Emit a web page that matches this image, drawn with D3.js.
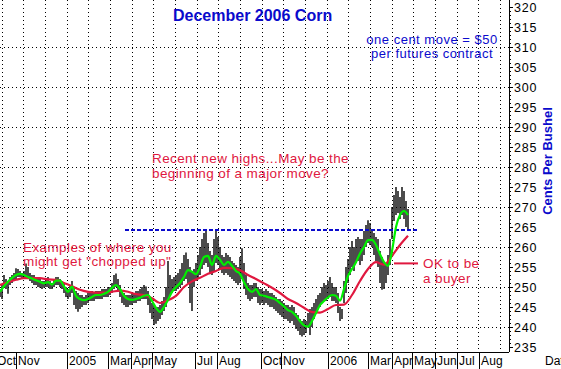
<!DOCTYPE html>
<html><head><meta charset="utf-8">
<script src="https://cdn.jsdelivr.net/npm/d3@7/dist/d3.min.js"></script>
<style>html,body{margin:0;padding:0;background:#fff;overflow:hidden}svg{display:block;font-family:Arial,"Liberation Sans",sans-serif}</style>
</head><body>
<script>
// ---- data (x positions are bar slots; one slot per sampled session) ----
const barHigh = [249.5,250.5,253.0,252.0,251.5,252.5,253.0,253.5,254.7,254.5,254.0,253.5,254.0,255.9,255.0,253.5,253.0,253.0,252.5,252.5,
252.0,251.5,251.5,252.0,252.5,251.5,251.0,252.0,252.5,252.5,252.0,251.5,251.0,250.0,249.5,250.5,251.5,250.0,249.0,248.5,
248.0,248.0,247.5,248.0,248.5,248.5,249.0,248.5,249.0,249.0,249.0,249.5,249.5,249.5,250.0,250.0,251.0,253.0,253.4,252.0,
250.5,249.0,248.5,248.0,248.0,248.0,248.5,248.5,249.0,249.0,249.5,250.0,250.5,250.1,249.0,247.5,246.0,245.5,245.0,245.0,
245.5,246.5,247.5,250.0,256.5,253.0,252.0,252.5,253.0,253.5,254.5,256.0,258.0,258.6,257.0,255.0,254.0,254.5,256.0,258.0,
260.0,262.0,263.5,264.0,261.0,259.0,258.0,262.0,264.0,262.5,260.0,258.0,257.5,258.5,258.0,257.5,256.5,256.0,255.5,255.0,
257.5,259.7,256.0,253.0,251.0,250.5,250.5,251.0,251.0,250.0,249.5,249.5,249.0,249.5,249.0,248.5,248.5,248.0,247.5,247.0,
247.0,246.5,246.0,245.5,245.5,245.0,245.5,245.0,243.5,243.0,242.0,241.5,242.0,241.5,243.5,244.5,245.0,246.0,247.0,248.0,
248.5,250.0,251.0,250.5,251.5,252.5,251.0,250.0,250.0,248.5,245.0,244.5,251.5,255.0,257.0,260.0,261.5,260.0,262.0,262.5,
262.0,262.0,264.0,265.5,266.7,266.0,264.5,263.5,262.5,262.0,259.0,257.5,256.0,256.0,258.0,262.0,270.0,273.0,275.0,274.0,
272.5,275.0,274.0,271.5,269.5];
const barLow = [247.5,247.0,249.8,249.5,248.3,250.5,251.0,251.5,252.0,252.5,252.5,252.0,252.0,252.5,252.0,251.5,251.0,250.5,250.5,250.0,
249.8,249.5,249.8,250.0,250.0,249.5,249.5,250.0,250.5,250.5,250.0,249.5,248.5,247.5,247.0,247.5,248.5,245.5,244.5,243.8,
244.5,245.0,245.5,245.5,246.0,246.5,246.5,246.5,247.0,247.0,247.0,247.0,247.5,247.5,247.5,248.0,248.5,249.5,250.0,249.0,
247.5,246.0,245.5,245.0,245.0,245.5,245.5,246.0,246.0,246.5,246.5,247.0,247.0,247.0,245.5,243.5,242.0,240.5,240.8,241.5,
242.0,243.0,244.0,245.0,247.0,248.0,248.5,249.0,249.0,249.5,250.0,250.5,251.5,252.0,251.0,246.0,244.0,250.0,251.5,252.0,
253.0,254.5,255.5,256.0,255.0,253.5,253.0,254.0,256.0,255.5,254.5,253.5,253.0,253.5,253.0,252.5,252.0,251.5,251.0,250.5,
251.0,252.0,249.5,248.0,247.0,246.5,247.0,247.5,247.5,246.0,245.5,246.0,245.5,246.0,245.5,245.0,245.0,244.5,244.0,243.5,
243.0,242.5,242.0,242.0,241.5,241.0,241.5,240.5,239.5,239.0,238.0,237.6,238.0,238.5,240.0,238.0,240.0,242.0,243.5,244.5,
245.0,246.0,246.5,246.5,247.0,247.5,246.5,246.5,246.0,243.5,241.5,242.0,246.0,248.5,251.0,253.0,255.0,254.0,256.0,256.5,
255.5,256.5,258.0,260.0,261.0,260.5,260.0,258.0,256.5,255.0,251.0,249.3,249.5,251.0,253.0,255.5,262.0,266.5,268.0,268.5,
267.0,268.0,267.0,265.0,264.5];
// short moving average (green), one value every 2 slots
const fastMA = [248.8,250.2,251.3,252.3,253.0,253.3,253.0,252.5,252.1,251.7,251.3,250.9,251.2,250.6,251.6,251.6,250.2,248.8,250.1,247.8,
247.0,246.7,247.0,247.5,248.0,248.0,248.3,248.8,249.8,250.5,249.5,247.8,247.0,246.8,247.0,247.3,247.8,248.0,246.5,244.8,
243.8,245.0,246.8,248.8,250.0,251.0,252.5,254.2,253.8,253.2,255.0,257.5,257.8,255.5,257.8,256.8,255.5,256.3,255.3,254.0,
253.3,251.2,249.5,248.8,249.5,248.0,247.8,247.5,247.2,246.8,246.0,245.2,244.2,243.8,242.8,241.5,240.4,240.1,241.5,243.5,
245.5,246.5,247.4,248.0,247.8,246.6,249.5,252.8,254.5,256.2,258.4,260.0,261.7,261.8,260.5,258.2,256.2,255.3,259.0,265.0,
268.0,269.0,268.0];
// long moving average (red), one value every 4 slots
const slowMA = [250.5,251.2,251.8,252.2,252.2,252.2,251.9,251.8,251.0,250.2,249.3,248.8,248.6,248.6,248.8,249.1,248.8,248.2,248.0,247.2,
246.0,246.7,247.8,250.0,251.4,252.3,253.3,254.0,254.8,254.7,254.2,253.0,252.0,250.9,249.8,248.5,247.0,246.0,244.8,243.7,
243.6,244.5,245.5,245.6,248.0,251.5,254.5,256.2,255.6,257.8,260.5,262.8];
const monthLabels = ["Oct","Nov","2005","Mar","Apr","May","Jul","Aug","Oct","Nov","2006","Mar","Apr","May","Jun","Jul","Aug"];
const monthSlots  = [-2.5,8,33.5,53.75,65.5,76,97.5,108.5,130.5,140.5,164,184,196,206,217.5,228.5,239.5];
const yTicks = [235,240,245,250,255,260,265,270,275,280,285,290,295,300,305,310,315,320];
const yGrid = [240,250,260,270,280,290,300,310];
const breakoutLevel = 264.25, breakoutFrom = 62.5, breakoutTo = 208.5;
const buyerLevel = 255.9, buyerFrom = 197, buyerTo = 209;

// ---- layout ----
const W = 561, H = 369;
const plotL = 0, plotR = 509, plotT = 0, plotB = 352;
const svg = d3.select("body").append("svg").attr("width", W).attr("height", H);

const x = d3.scaleLinear().domain([0, 254.5]).range([plotL, plotR]);
const y = d3.scaleLinear().domain([235, 320]).range([347, 7]);

const red = "#e0183f", blue = "#0a0acc";

// vertical dotted grid (fixed interval)
const vgrid = d3.range(0.85, 254, 10.833);
svg.append("g").selectAll("line").data(vgrid).join("line")
  .attr("x1", d => Math.round(x(d)) + 0.5).attr("x2", d => Math.round(x(d)) + 0.5)
  .attr("y1", plotT).attr("y2", plotB)
  .attr("stroke", "#000").attr("stroke-width", 1).attr("stroke-dasharray", "1,3");
// horizontal dotted grid
svg.append("g").selectAll("line").data(yGrid).join("line")
  .attr("x1", plotL).attr("x2", plotR)
  .attr("y1", d => Math.round(y(d)) + 0.5).attr("y2", d => Math.round(y(d)) + 0.5)
  .attr("stroke", "#000").attr("stroke-width", 1).attr("stroke-dasharray", "1,3");

// price bars
svg.append("g").selectAll("line").data(barHigh).join("line")
  .attr("x1", (d, i) => x(i)).attr("x2", (d, i) => x(i))
  .attr("y1", d => y(d)).attr("y2", (d, i) => y(barLow[i]))
  .attr("stroke", "#000").attr("stroke-width", 1.4);

// breakout dashed line
svg.append("line")
  .attr("x1", x(breakoutFrom)).attr("x2", x(breakoutTo))
  .attr("y1", y(breakoutLevel)).attr("y2", y(breakoutLevel))
  .attr("stroke", blue).attr("stroke-width", 2).attr("stroke-dasharray", "4,2");

// moving averages
const slowLine = d3.line().x((d, i) => x(i * 4)).y(d => y(d)).curve(d3.curveMonotoneX);
const fastLine = d3.line().x((d, i) => x(i * 2)).y(d => y(d)).curve(d3.curveMonotoneX);
svg.append("path").attr("d", slowLine(slowMA)).attr("fill", "none").attr("stroke", red).attr("stroke-width", 2.2);
svg.append("path").attr("d", fastLine(fastMA)).attr("fill", "none").attr("stroke", "#00f000").attr("stroke-width", 2.2);

// pointer for "OK to be a buyer"
svg.append("line")
  .attr("x1", x(buyerFrom)).attr("x2", x(buyerTo))
  .attr("y1", y(buyerLevel)).attr("y2", y(buyerLevel))
  .attr("stroke", red).attr("stroke-width", 2);

// right axis
const ax = svg.append("g");
ax.append("line").attr("x1", plotR + 0.5).attr("x2", plotR + 0.5).attr("y1", plotT).attr("y2", plotB).attr("stroke", "#000");
ax.selectAll("line.minor").data(d3.range(235, 321, 1)).join("line").attr("class", "minor")
  .attr("x1", plotR).attr("x2", d => plotR + (d % 5 === 0 ? 4 : 2))
  .attr("y1", d => Math.round(y(d)) + 0.5).attr("y2", d => Math.round(y(d)) + 0.5)
  .attr("stroke", "#000");
ax.selectAll("text").data(yTicks).join("text")
  .attr("x", plotR + 5).attr("y", d => y(d)).attr("dy", "0.36em")
  .attr("font-size", 12.5).attr("letter-spacing", "0.8px").attr("fill", "#000").text(d => d);

// bottom axis
svg.append("line").attr("x1", 0).attr("x2", plotR).attr("y1", plotB + 0.5).attr("y2", plotB + 0.5).attr("stroke", "#000");
const bx = svg.append("g");
bx.selectAll("line").data(monthSlots.slice(1)).join("line")
  .attr("x1", d => Math.round(x(d)) + 0.5).attr("x2", d => Math.round(x(d)) + 0.5)
  .attr("y1", plotB).attr("y2", H).attr("stroke", "#000");
bx.selectAll("text").data(monthLabels).join("text")
  .attr("x", (d, i) => Math.round(x(monthSlots[i])) + 2).attr("y", 365)
  .attr("font-size", 12).attr("letter-spacing", "0.2px").attr("fill", "#000").text(d => d);
svg.append("text").attr("x", 545).attr("y", 365).attr("font-size", 12).text("Date");

// titles and annotations
svg.append("text").attr("x", 173).attr("y", 21).attr("font-size", 16).attr("font-weight", "bold").attr("fill", blue).text("December 2006 Corn");
svg.append("text").attr("x", 432).attr("y", 44).attr("text-anchor", "middle").attr("font-size", 13).attr("letter-spacing", "0.5px").attr("fill", blue).text("one cent move = $50");
svg.append("text").attr("x", 432).attr("y", 58).attr("text-anchor", "middle").attr("font-size", 13).attr("letter-spacing", "0.5px").attr("fill", blue).text("per futures contract");
svg.append("text").attr("transform", "translate(552,161) rotate(-90)").attr("text-anchor", "middle")
  .attr("font-size", 13).attr("font-weight", "bold").attr("fill", blue).text("Cents Per Bushel");

const note = (tx, ty, lines) => {
  const t = svg.append("text").attr("x", tx).attr("y", ty).attr("font-size", 13.5).attr("letter-spacing", "0.4px").attr("fill", red);
  lines.forEach((s, i) => t.append("tspan").attr("x", tx).attr("dy", i ? 14.5 : 0).text(s));
};
note(152, 163, ["Recent new highs...May be the", "beginning of a major move?"]);
note(23, 251.5, ["Examples of where you", "might get \"chopped up\""]);
note(423, 268, ["OK to be", "a buyer"]);
</script>
</body></html>
